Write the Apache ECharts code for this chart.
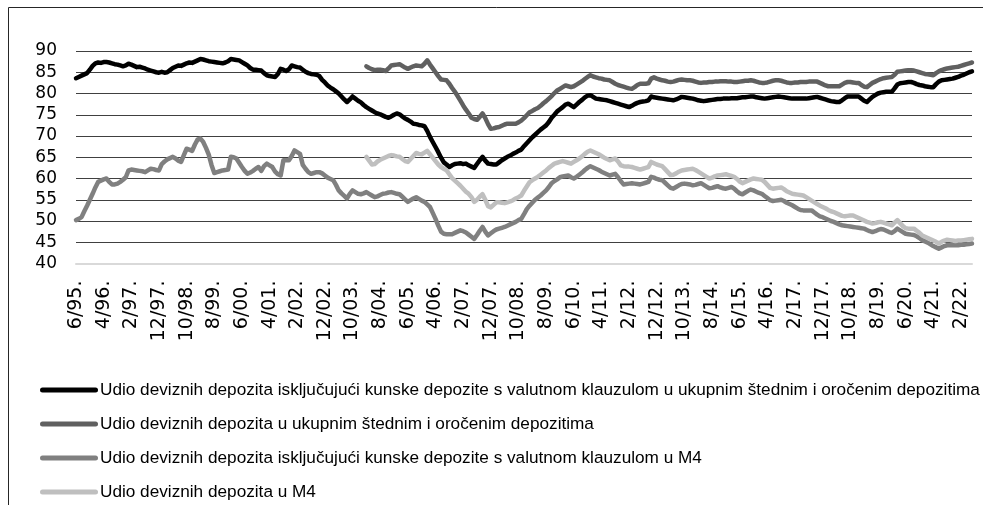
<!DOCTYPE html>
<html>
<head>
<meta charset="utf-8">
<script src="https://cdn.jsdelivr.net/npm/echarts@6/dist/echarts.min.js"></script>
<style>
  html, body { margin: 0; padding: 0; background: #fff; }
  #chart { width: 983px; height: 505px; }
</style>
</head>
<body>
<div id="chart"></div>
<script>
// Monthly observations, June 1995 – June 2022 (325 months)
const firstYear = 1995;
const firstMonth = 6;
const monthCount = 325;

// Category labels "M/YY." for each month
const categories = [];
for (let i = 0; i < monthCount; i++) {
  const m = (firstMonth - 1 + i) % 12 + 1;
  const y = firstYear + Math.floor((firstMonth - 1 + i) / 12);
  categories.push(m + '/' + String(y % 100).padStart(2, '0') + '.');
}

const seriesNames = [
  'Udio deviznih depozita isključujući kunske depozite s valutnom klauzulom u ukupnim štednim i oročenim depozitima',
  'Udio deviznih depozita u ukupnim štednim i oročenim depozitima',
  'Udio deviznih depozita isključujući kunske depozite s valutnom klauzulom u M4',
  'Udio deviznih depozita u M4'
];

// FX deposits excl. FX-indexed kuna deposits, share of savings and time deposits (from 6/95)
const fxExclSavings = [
  83.6, 83.9, 84.2, 84.5, 84.8, 85.6, 86.5, 87.1, 87.3, 87.2, 87.4, 87.4,
  87.3, 87.1, 86.9, 86.8, 86.6, 86.4, 86.6, 87.0, 86.8, 86.5, 86.2, 86.3,
  86.1, 85.9, 85.6, 85.4, 85.2, 85.0, 84.9, 85.1, 84.9, 85.0, 85.5, 86.0,
  86.3, 86.6, 86.5, 86.8, 87.1, 87.3, 87.2, 87.5, 87.8, 88.1, 88.0, 87.8,
  87.6, 87.5, 87.4, 87.3, 87.2, 87.1, 87.3, 87.6, 88.1, 88.0, 87.9, 87.8,
  87.4, 87.0, 86.6, 86.0, 85.6, 85.6, 85.5, 85.4, 84.8, 84.3, 84.1, 84.0,
  83.9, 84.6, 85.8, 85.6, 85.3, 85.7, 86.6, 86.4, 86.2, 86.1, 85.6, 85.1,
  84.8, 84.6, 84.5, 84.4, 84.1, 83.2, 82.6, 81.9, 81.4, 81.0, 80.5, 80.0,
  79.3, 78.6, 78.0, 78.6, 79.3, 78.8, 78.3, 77.9, 77.3, 76.8, 76.4, 76.0,
  75.6, 75.3, 75.1, 74.8, 74.5, 74.3, 74.6, 75.0, 75.3, 75.1, 74.6, 74.1,
  73.8, 73.4, 72.9, 72.8, 72.6, 72.5, 72.3, 71.2, 69.8, 68.6, 67.4, 66.2,
  64.9, 63.8, 63.3, 62.7, 63.1, 63.4, 63.5, 63.6, 63.4, 63.5, 63.1, 62.8,
  62.5, 63.4, 64.3, 65.1, 64.2, 63.5, 63.4, 63.3, 63.3, 63.8, 64.3, 64.7,
  65.1, 65.4, 65.8, 66.1, 66.5, 66.8, 67.6, 68.3, 69.0, 69.7, 70.3, 70.9,
  71.5, 72.0, 72.5, 73.3, 74.3, 75.0, 75.8, 76.3, 76.8, 77.4, 77.6, 77.2,
  76.8, 77.4, 78.0, 78.5, 79.1, 79.5, 79.6, 79.2, 78.8, 78.7, 78.6, 78.5,
  78.4, 78.2, 78.0, 77.8, 77.6, 77.4, 77.2, 77.0, 76.8, 77.1, 77.5, 77.8,
  78.0, 78.1, 78.2, 78.4, 79.3, 79.1, 79.0, 78.9, 78.8, 78.7, 78.6, 78.5,
  78.4, 78.6, 78.9, 79.2, 79.1, 79.0, 78.9, 78.8, 78.6, 78.4, 78.3, 78.2,
  78.3, 78.4, 78.5, 78.6, 78.7, 78.7, 78.8, 78.8, 78.8, 78.9, 78.9, 78.9,
  79.0, 79.1, 79.1, 79.2, 79.3, 79.3, 79.1, 79.0, 78.9, 78.8, 78.9, 79.0,
  79.1, 79.2, 79.3, 79.2, 79.1, 79.0, 78.9, 78.8, 78.8, 78.8, 78.8, 78.8,
  78.8, 78.9, 79.0, 79.1, 79.2, 79.0, 78.8, 78.6, 78.4, 78.2, 78.1, 78.0,
  78.0, 78.4, 78.9, 79.3, 79.3, 79.3, 79.3, 79.3, 78.8, 78.3, 78.0, 78.6,
  79.2, 79.6, 80.0, 80.2, 80.3, 80.4, 80.4, 80.4, 81.2, 82.1, 82.4, 82.5,
  82.6, 82.7, 82.7, 82.5, 82.2, 82.0, 81.9, 81.7, 81.6, 81.5, 81.5, 82.2,
  82.8, 83.1, 83.2, 83.3, 83.4, 83.5, 83.7, 83.9, 84.2, 84.4, 84.7, 85.0,
  85.2
];

// FX deposits, share of savings and time deposits (from 3/04)
const fxSavingsStart = '3/04.';
const fxSavings = [
  86.4, 86.0, 85.7,
  85.5, 85.6, 85.6, 85.5, 85.3, 85.9, 86.6, 86.7, 86.8, 86.9, 86.5, 86.1,
  85.8, 86.1, 86.4, 86.6, 86.5, 86.4, 87.0, 87.8, 86.8, 85.9, 85.0, 84.1,
  83.3, 83.2, 83.1, 82.3, 81.3, 80.4, 79.4, 78.3, 77.2, 76.2, 75.3, 74.3,
  74.0, 73.8, 74.5, 75.3, 74.2, 72.8, 71.7, 71.8, 72.0, 72.1, 72.4, 72.7,
  72.9, 72.9, 72.9, 72.9, 73.2, 73.6, 74.2, 74.9, 75.6, 75.9, 76.3, 76.6,
  77.1, 77.7, 78.2, 78.8, 79.4, 80.1, 80.7, 81.1, 81.5, 81.9, 81.7, 81.5,
  81.7, 82.1, 82.5, 82.9, 83.4, 83.9, 84.3, 84.0, 83.8, 83.6, 83.5, 83.3,
  83.2, 83.1, 82.7, 82.3, 82.0, 81.8, 81.6, 81.4, 81.2, 81.1, 81.5, 82.0,
  82.3, 82.3, 82.3, 82.4, 83.5, 83.8, 83.5, 83.3, 83.1, 83.0, 82.8, 82.7,
  82.8, 83.0, 83.2, 83.3, 83.2, 83.1, 83.1, 83.0, 82.8, 82.6, 82.5, 82.6,
  82.6, 82.7, 82.7, 82.8, 82.8, 82.9, 82.9, 82.9, 82.8, 82.8, 82.7, 82.7,
  82.8, 82.9, 83.0, 83.0, 83.1, 83.0, 82.8, 82.6, 82.5, 82.5, 82.6, 82.8,
  83.0, 83.1, 83.1, 83.0, 82.8, 82.6, 82.5, 82.5, 82.6, 82.6, 82.7, 82.7,
  82.7, 82.8, 82.8, 82.8, 82.8, 82.5, 82.2, 81.9, 81.7, 81.7, 81.7, 81.7,
  81.7, 82.1, 82.5, 82.7, 82.7, 82.6, 82.5, 82.5, 82.0, 81.6, 81.5, 82.0,
  82.5, 82.8, 83.1, 83.4, 83.6, 83.7, 83.8, 83.9, 84.4, 85.1, 85.2, 85.3,
  85.4, 85.5, 85.5, 85.4, 85.2, 85.0, 84.8, 84.6, 84.5, 84.4, 84.3, 84.8,
  85.2, 85.5, 85.7, 85.9, 86.0, 86.1, 86.2, 86.3, 86.5, 86.7, 86.9, 87.1,
  87.3
];

// FX deposits excl. FX-indexed kuna deposits, share of M4 (from 6/95)
const fxExclM4 = [
  50.2, 50.5, 50.9, 52.3, 53.6, 55.0, 56.4, 57.9, 59.2, 59.5, 59.8, 60.0,
  59.2, 58.6, 58.6, 58.8, 59.2, 59.7, 60.3, 61.9, 62.1, 62.0, 61.9, 61.8,
  61.7, 61.5, 61.9, 62.3, 62.2, 62.0, 61.9, 63.4, 64.0, 64.5, 64.8, 65.1,
  64.7, 64.2, 63.9, 65.5, 67.0, 66.8, 66.5, 68.0, 69.2, 69.4, 68.6, 67.2,
  65.6, 63.2, 61.3, 61.5, 61.7, 61.9, 62.0, 62.1, 65.1, 65.0, 64.7, 63.7,
  62.7, 61.8, 61.1, 61.4, 61.8, 62.3, 62.7, 61.8, 62.9, 63.5, 63.1, 62.7,
  61.6, 61.0, 60.7, 64.3, 64.3, 64.3, 65.3, 66.6, 66.2, 65.8, 63.2, 62.3,
  61.5, 61.1, 61.3, 61.5, 61.5, 61.2, 60.7, 60.2, 59.9, 59.6, 58.5, 57.2,
  56.5, 55.9, 55.3, 56.4, 57.2, 56.8, 56.4, 56.3, 56.5, 56.8, 56.4, 56.0,
  55.6, 55.8, 56.1, 56.4, 56.5, 56.7, 56.8, 56.6, 56.4, 56.3, 55.7, 55.1,
  54.5, 54.9, 55.3, 55.6, 55.2, 54.8, 54.5, 53.9, 53.3, 51.9, 50.5, 48.9,
  47.5, 47.0, 46.9, 46.9, 46.9, 47.2, 47.5, 47.8, 47.6, 47.3, 46.8, 46.3,
  45.8, 46.7, 47.7, 48.6, 47.5, 46.6, 47.1, 47.6, 48.0, 48.2, 48.4, 48.6,
  48.9, 49.2, 49.5, 49.8, 50.2, 50.5, 51.6, 52.8, 53.6, 54.3, 55.0, 55.5,
  56.0, 56.6, 57.2, 58.0, 58.9, 59.4, 59.8, 60.3, 60.5, 60.6, 60.7, 60.3,
  60.0, 60.4, 60.9, 61.4, 62.0, 62.5, 62.9, 62.6, 62.3, 62.0, 61.6, 61.3,
  61.0, 60.7, 60.9, 61.1, 60.3, 59.4, 58.6, 58.7, 58.8, 58.9, 58.8, 58.7,
  58.6, 58.8, 59.0, 59.2, 60.4, 60.2, 59.9, 59.7, 59.6, 59.0, 58.4, 57.8,
  57.6, 58.0, 58.4, 58.7, 58.8, 58.7, 58.6, 58.4, 58.5, 58.7, 58.9, 58.5,
  58.1, 57.7, 57.8, 58.0, 58.2, 57.9, 57.7, 57.6, 57.8, 58.0, 57.6, 57.0,
  56.5, 56.3, 56.7, 57.1, 57.4, 57.2, 56.9, 56.6, 56.4, 55.9, 55.4, 54.9,
  54.7, 54.8, 54.9, 55.0, 54.7, 54.3, 54.0, 53.7, 53.3, 52.9, 52.6, 52.5,
  52.5, 52.5, 52.5, 52.0, 51.5, 51.1, 50.9, 50.6, 50.3, 50.0, 49.8, 49.5,
  49.2, 49.0, 48.9, 48.8, 48.7, 48.6, 48.5, 48.4, 48.3, 48.2, 47.9, 47.6,
  47.4, 47.6, 47.9, 48.1, 48.0, 47.7, 47.4, 47.2, 47.6, 48.2, 47.8, 47.4,
  47.0, 46.9, 46.8, 46.7, 46.4, 46.0, 45.5, 45.2, 44.9, 44.5, 44.1, 43.8,
  43.5, 43.8, 44.1, 44.3, 44.3, 44.3, 44.3, 44.3, 44.4, 44.4, 44.5, 44.6,
  44.7
];

// FX deposits, share of M4 (from 3/04)
const fxM4Start = '3/04.';
const fxM4 = [
  65.1, 64.2, 63.3,
  63.4, 64.0, 64.4, 64.7, 65.0, 65.3, 65.5, 65.4, 65.2, 65.1, 64.6, 64.1,
  63.9, 64.6, 65.3, 66.0, 65.8, 65.7, 66.1, 66.5, 65.7, 64.9, 64.1, 63.3,
  62.7, 62.3, 61.9, 61.0, 60.1, 59.5, 58.9, 58.3, 57.6, 56.9, 56.4, 55.6,
  54.5, 55.0, 55.7, 56.3, 55.0, 53.5, 53.2, 53.8, 54.4, 54.4, 54.3, 54.2,
  54.4, 54.6, 54.9, 55.3, 55.6, 56.0, 57.1, 58.1, 59.1, 59.6, 60.0, 60.4,
  60.9, 61.4, 61.9, 62.5, 63.0, 63.5, 63.7, 63.9, 64.1, 63.9, 63.7, 63.5,
  63.9, 64.3, 64.7, 65.2, 65.8, 66.3, 66.6, 66.3, 66.0, 65.7, 65.3, 64.9,
  64.6, 64.3, 64.5, 64.7, 64.0, 63.1, 62.9, 62.8, 62.8, 62.7, 62.5, 62.3,
  62.1, 62.3, 62.5, 62.7, 63.9, 63.6, 63.3, 63.1, 62.9, 62.2, 61.5, 60.8,
  60.9, 61.2, 61.6, 61.9, 62.0, 62.1, 62.2, 62.3, 62.0, 61.6, 61.2, 60.8,
  60.4, 60.0, 60.2, 60.5, 60.7, 60.8, 60.9, 61.0, 60.8, 60.6, 60.4, 59.9,
  59.3, 58.9, 59.2, 59.5, 59.8, 60.0, 59.9, 59.8, 59.7, 59.2, 58.5, 57.8,
  57.6, 57.7, 57.8, 57.9, 57.5, 57.0, 56.7, 56.4, 56.3, 56.2, 56.1, 56.0,
  55.6, 55.2, 54.8, 54.4, 54.0, 53.6, 53.3, 53.0, 52.6, 52.3, 52.1, 51.8,
  51.5, 51.2, 51.1, 51.2, 51.3, 51.3, 51.0, 50.7, 50.4, 50.1, 49.8, 49.6,
  49.4, 49.5, 49.7, 49.8, 49.6, 49.4, 49.2, 49.0, 49.6, 50.2, 49.5, 48.8,
  48.3, 48.2, 48.2, 48.2, 47.7, 47.2, 46.6, 46.3, 46.0, 45.7, 45.4, 45.1,
  44.7, 45.1, 45.4, 45.6, 45.5, 45.4, 45.3, 45.4, 45.4, 45.5, 45.6, 45.7,
  45.8
];

// Align a series that begins later than the first month
function alignFrom(startLabel, values) {
  const offset = categories.indexOf(startLabel);
  return new Array(offset).fill(null).concat(values);
}

const lineColors = ['#000000', '#606060', '#808080', '#bfbfbf'];
const seriesData = [
  fxExclSavings,
  alignFrom(fxSavingsStart, fxSavings),
  fxExclM4,
  alignFrom(fxM4Start, fxM4)
];

const chart = echarts.init(document.getElementById('chart'), null, { renderer: 'canvas' });

const legendIcon = 'path://M2.5,0H55.5A2.5,2.5,0,0,1,55.5,5H2.5A2.5,2.5,0,0,1,2.5,0Z';

chart.setOption({
  backgroundColor: '#ffffff',
  animation: false,
  graphic: [{
    type: 'rect',
    shape: { x: 8.5, y: 7.5, width: 1200, height: 1200 },
    style: { fill: 'none', stroke: '#262626', lineWidth: 1 },
    silent: true,
    z: 0
  }],
  grid: { left: 76, right: 11, top: 51, height: 212.5, containLabel: false },
  legend: {
    orient: 'vertical',
    left: 40,
    top: 380,
    width: 940,
    height: 150,
    padding: 0,
    itemWidth: 58,
    itemHeight: 5,
    itemGap: 14,
    icon: legendIcon,
    textStyle: {
      fontFamily: 'Liberation Sans',
      fontSize: 17.2,
      color: '#000',
      lineHeight: 20,
      padding: [0, 0, 0, -3]
    },
    data: seriesNames
  },
  xAxis: {
    type: 'category',
    boundaryGap: false,
    data: categories,
    axisTick: { show: false },
    axisLine: { lineStyle: { color: '#d9d9d9', width: 2 } },
    axisLabel: {
      interval: 9,
      rotate: 90,
      margin: 17,
      fontFamily: 'DejaVu Sans',
      fontSize: 19,
      color: '#000'
    },
    splitLine: { show: false }
  },
  yAxis: {
    type: 'value',
    min: 40,
    max: 90,
    interval: 5,
    axisLine: { show: false },
    axisTick: { show: false },
    axisLabel: {
      margin: 19,
      fontFamily: 'DejaVu Sans',
      fontSize: 17,
      color: '#000'
    },
    splitLine: { showMinLine: false, lineStyle: { color: '#404040', width: 1 } }
  },
  series: seriesNames.map((name, i) => ({
    name: name,
    type: 'line',
    data: seriesData[i],
    showSymbol: false,
    symbol: 'none',
    connectNulls: false,
    color: lineColors[i],
    lineStyle: { color: lineColors[i], width: 4.5, cap: 'round', join: 'round' },
    z: 3 + i
  }))
});
</script>
</body>
</html>
